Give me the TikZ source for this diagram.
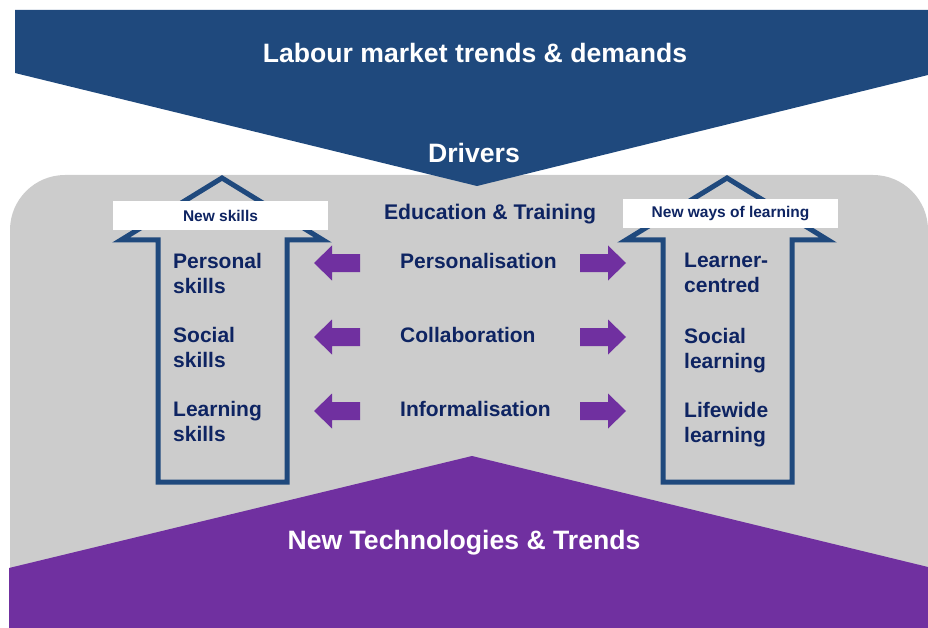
\documentclass[tikz,border=0pt]{standalone}
\usepackage{fontspec}
\setmainfont{Liberation Sans}
\usepackage{tikz}

\definecolor{bannerblue}{RGB}{31,73,125}
\definecolor{techpurple}{RGB}{112,48,160}
\definecolor{panelgrey}{RGB}{204,204,204}
\definecolor{inknavy}{RGB}{14,36,98}

\begin{document}
\begin{tikzpicture}[x=1pt,y=-1pt,
    heading/.style={text=white,font=\fontsize{26.6}{30}\selectfont\bfseries,anchor=base},
    itemtext/.style={text=inknavy,font=\fontsize{21}{25}\selectfont\bfseries,align=left,anchor=north west,inner sep=0pt},
    tag/.style={fill=white,text=inknavy,font=\fontsize{15.5}{18}\selectfont\bfseries,minimum width=215,minimum height=29,inner sep=0pt},
    outline/.style={draw=bannerblue,line width=5pt,line join=miter}]
      \useasboundingbox (0,0) rectangle (928,628);
      % grey panel behind everything
      \fill[panelgrey,rounded corners=55] (10,175) rectangle (928,660);
      % top and bottom banners
      \fill[bannerblue] (15,10) -- (928,10) -- (928,75) -- (477,186) -- (15,73) -- cycle;
      \fill[techpurple] (9,568) -- (472,456) -- (928,567) -- (928,628) -- (9,628) -- cycle;
      \node[heading] (labour) at (475,63) {Labour market trends \& demands};
      \node[heading] (drivers) at (474,163) {Drivers};
      \node[heading] (techtrends) at (464,549) {New Technologies \& Trends};
      % the two hollow up arrows
      \draw[outline] (158,482) -- (158,240) -- (121,240) -- (222,178) -- (323,240) -- (287,240) -- (287,482) -- cycle;
      \draw[outline] (663,482) -- (663,240) -- (626,240) -- (727,178) -- (828,240) -- (792,240) -- (792,482) -- cycle;
      \node[tag] (newskills) at (220.5,215.5) {New skills};
      \node[tag] (newways) at (730.5,213.5) {New ways of learning};
      % middle column
      \node[text=inknavy,font=\fontsize{21.2}{25}\selectfont\bfseries,anchor=base] (edu) at (490,220) {Education \& Training};
      \node[itemtext] (pers) at (400,253) {Personalisation};
      \node[itemtext] (coll) at (400,327) {Collaboration};
      \node[itemtext] (info) at (400,401) {Informalisation};
      % skills
      \node[itemtext] (personal) at (173,253) {Personal\\skills};
      \node[itemtext] (social) at (173,327) {Social\\skills};
      \node[itemtext] (learnsk) at (173,401) {Learning\\skills};
      % ways of learning
      \node[itemtext] (centred) at (684,253) {Learner-\\centred};
      \node[itemtext] (sociall) at (684,328) {Social\\learning};
      \node[itemtext] (lifewide) at (684,402) {Lifewide\\learning};
      % purple block arrows
      \foreach \c in {263,337,411} {
        \fill[techpurple] (360,\c-9) -- (332,\c-9) -- (332,\c-17.5) -- (314,\c) -- (332,\c+17.5) -- (332,\c+9) -- (360,\c+9) -- cycle;
        \fill[techpurple] (580,\c-9) -- (608,\c-9) -- (608,\c-17.5) -- (626,\c) -- (608,\c+17.5) -- (608,\c+9) -- (580,\c+9) -- cycle;
      }
    \end{tikzpicture}
\end{document}
